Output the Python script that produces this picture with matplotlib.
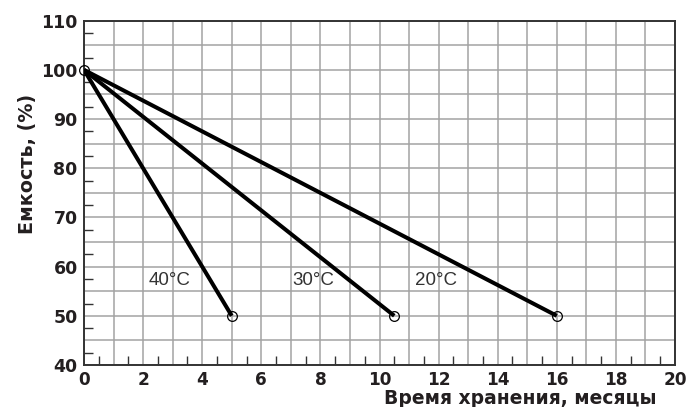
import matplotlib
matplotlib.use("Agg")
import matplotlib.pyplot as plt
import numpy as np
from matplotlib.ticker import MultipleLocator, FuncFormatter

# Data
temps = ["40°C", "30°C", "20°C"]
start_month = [0, 0, 0]
start_capacity = [100, 100, 100]
end_month = [5.0, 10.5, 16.0]
end_capacity = [50, 50, 50]
label_x = [2.9, 7.75, 11.9]
label_y = [57.1, 57.1, 57.1]

x_major_labels = list(range(0, 21, 2))
y_major_labels = list(range(40, 111, 10))

fig = plt.figure(figsize=(6.98, 4.07), dpi=100)
ax = fig.add_axes([84 / 698, 1 - 365 / 407, (675 - 84) / 698, (365 - 20.7) / 407])

ax.set_xlim(0, 20)
ax.set_ylim(40, 110)

# Grid: every 1 month, every 5 %
ax.xaxis.set_major_locator(MultipleLocator(1))
ax.yaxis.set_major_locator(MultipleLocator(5))
ax.xaxis.set_major_formatter(FuncFormatter(lambda v, p: f"{int(round(v))}" if int(round(v)) in x_major_labels else ""))
ax.yaxis.set_major_formatter(FuncFormatter(lambda v, p: f"{int(round(v))}" if int(round(v)) in y_major_labels else ""))
ax.grid(True, which="major", color="#a3a3a3", linewidth=1.1)
ax.set_axisbelow(True)

# minor inward ticks at half positions
ax.xaxis.set_minor_locator(MultipleLocator(1, offset=0.5))
ax.yaxis.set_minor_locator(MultipleLocator(5, offset=2.5))
ax.tick_params(which="major", length=0, labelsize=12.5, labelcolor="#231f20")
ax.tick_params(axis="y", which="major", pad=4.5)
ax.tick_params(axis="x", which="major", pad=4, labelsize=12.2)
ax.tick_params(which="minor", direction="in", length=6.5, width=1.0, color="#333333")
for lab in ax.get_xticklabels() + ax.get_yticklabels():
    lab.set_fontweight("bold")
    lab.set_family("DejaVu Sans")

for s in ax.spines.values():
    s.set_color("#333333")
    s.set_linewidth(1.4)

for i in range(len(temps)):
    ax.plot([start_month[i], end_month[i]], [start_capacity[i], end_capacity[i]],
            color="black", linewidth=2.9, solid_capstyle="butt", zorder=3)
    ax.plot([end_month[i]], [end_capacity[i]], marker="o", markersize=7,
            markerfacecolor="none", markeredgecolor="black", markeredgewidth=0.9,
            linestyle="none", zorder=4, clip_on=False)
    ax.text(label_x[i], label_y[i], temps[i], fontsize=13.5, family="Liberation Sans",
            color="#333333", ha="center", va="center", zorder=5)

ax.plot([start_month[0]], [start_capacity[0]], marker="o", markersize=7,
        markerfacecolor="none", markeredgecolor="black", markeredgewidth=0.9,
        linestyle="none", zorder=4, clip_on=False)

fig.text(656 / 698, 1 - 404 / 407, "Время хранения, месяцы", ha="right", va="baseline",
         fontsize=13.5, fontweight="bold", family="DejaVu Sans", color="#231f20")
fig.text(27 / 698, 1 - 164 / 407, "Емкость, (%)", ha="center", va="center", rotation=90,
         fontsize=13.8, fontweight="bold", family="DejaVu Sans", color="#231f20")

fig.savefig("out.png", dpi=100)
